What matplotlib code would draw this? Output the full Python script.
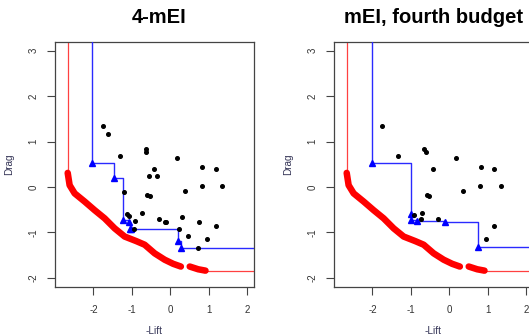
import matplotlib
matplotlib.use("Agg")
import matplotlib.pyplot as plt
import numpy as np

plt.rcParams['font.family'] = ['Liberation Sans', 'DejaVu Sans']

# True Pareto front (red), split at the visible gap
front_a_x = [-2.67, -2.62, -2.49, -2.23, -1.97, -1.71, -1.45, -1.19, -0.89, -0.67, -0.41, -0.15, 0.07, 0.27]
front_a_y = [0.31, 0.04, -0.14, -0.32, -0.51, -0.69, -0.91, -1.09, -1.19, -1.27, -1.46, -1.60, -1.69, -1.75]
front_b_x = [0.50, 0.72, 0.91]
front_b_y = [-1.75, -1.81, -1.84]

# Panel 1: 4-mEI
p1_pts_x = [-1.74, -1.63, -1.32, -0.64, -0.64, 0.17, 0.81, 1.17, -0.43, -0.56, -0.36,
            -1.22, -0.60, -0.54, 0.37, 0.81, 1.33, -1.12, -1.08, -0.93, -0.73, -0.30,
            -0.15, -0.11, 0.29, 0.74, 1.18, 0.23, -0.96, 0.46, 0.96, 0.72]
p1_pts_y = [1.34, 1.16, 0.68, 0.84, 0.76, 0.63, 0.44, 0.40, 0.40, 0.25, 0.25,
            -0.12, -0.17, -0.20, -0.09, 0.02, 0.03, -0.60, -0.64, -0.75, -0.58, -0.70,
            -0.78, -0.76, -0.67, -0.78, -0.85, -0.93, -0.93, -1.08, -1.15, -1.34]
p1_par_x = [-2.03, -1.47, -1.23, -1.07, -1.06, -1.02, 0.20, 0.27]
p1_par_y = [0.52, 0.20, -0.73, -0.77, -0.92, -0.93, -1.19, -1.34]

# Panel 2: mEI, fourth budget
p2_pts_x = [-1.74, -1.33, -0.65, -0.62, 0.17, 0.81, 1.16, -0.44, -0.59, -0.54,
            0.36, 0.80, 1.34, -0.92, -0.71, -0.74, -0.30, 1.16, 0.96]
p2_pts_y = [1.34, 0.68, 0.84, 0.76, 0.63, 0.44, 0.40, 0.40, -0.18, -0.19,
            -0.09, 0.02, 0.03, -0.62, -0.58, -0.70, -0.70, -0.85, -1.15]
p2_par_x = [-2.01, -1.00, -1.00, -0.85, -0.12, 0.73]
p2_par_y = [0.52, -0.59, -0.72, -0.75, -0.76, -1.33]

titles = ["4-mEI", "mEI, fourth budget"]
xticks = [-2, -1, 0, 1, 2]
yticks = [-2, -1, 0, 1, 2, 3]

W, H = 529, 336
fig = plt.figure(figsize=(W / 100, H / 100), dpi=100)

XLIM = (-3.0, 2.17)
YLIM = (-2.2, 3.19)
axcol = '#444444'


def panel(left_px, pts_x, pts_y, par_x, par_y):
    ax = fig.add_axes([left_px / W, (H - 287) / H, 199 / W, 245 / H])
    ax.set_xlim(*XLIM)
    ax.set_ylim(*YLIM)
    big = 100.0
    # true front
    ax.plot([front_a_x[0], front_a_x[0]], [front_a_y[0], big], color='#ff4040', lw=0.9, zorder=2)
    ax.plot([front_b_x[-1], big], [front_b_y[-1], front_b_y[-1]], color='#ff4040', lw=0.9, zorder=2)
    for fx, fy in ((front_a_x, front_a_y), (front_b_x, front_b_y)):
        ax.plot(fx, fy, color='red', lw=4.7, solid_capstyle='round', solid_joinstyle='round', zorder=3)
    # observed pareto step
    sx = [par_x[0]] + list(par_x) + [big]
    sy = [big] + list(par_y) + [par_y[-1]]
    ax.plot(sx, sy, drawstyle='steps-post', color='#2a2aff', lw=1.0, zorder=4)
    ax.plot(par_x, par_y, ls='none', marker='^', color='blue', ms=4.8, zorder=5)
    ax.plot(pts_x, pts_y, ls='none', marker='o', color='black', ms=2.6, zorder=6)
    ax.set_xticks(xticks)
    ax.set_yticks(yticks)
    ax.set_xticklabels([str(t) for t in xticks])
    ax.set_yticklabels([str(t) for t in yticks], rotation=90, va='center')
    ax.tick_params(direction='out', length=6, width=0.8, colors=axcol, labelsize=7,
                   labelcolor='#333333')
    ax.tick_params(axis='x', pad=7)
    ax.tick_params(axis='y', pad=6)
    for s in ax.spines.values():
        s.set_color(axcol)
        s.set_linewidth(0.9)
    ax.set_ylabel('Drag', fontsize=7.2, color='#333355', labelpad=10)
    return ax


panel(55, p1_pts_x, p1_pts_y, p1_par_x, p1_par_y)
panel(334, p2_pts_x, p2_pts_y, p2_par_x, p2_par_y)

for cx, t in ((159.5, titles[0]), (433, titles[1])):
    fig.text(cx / W, (H - 23.3) / H, t, ha='center', va='baseline', fontsize=14.5,
             fontweight='bold', color='black')
for cx in (154.5, 433.5):
    fig.text(cx / W, (H - 325.5) / H, '-Lift', ha='center', va='top', fontsize=7.2, color='#333355')

fig.savefig('out.png', dpi=100)
